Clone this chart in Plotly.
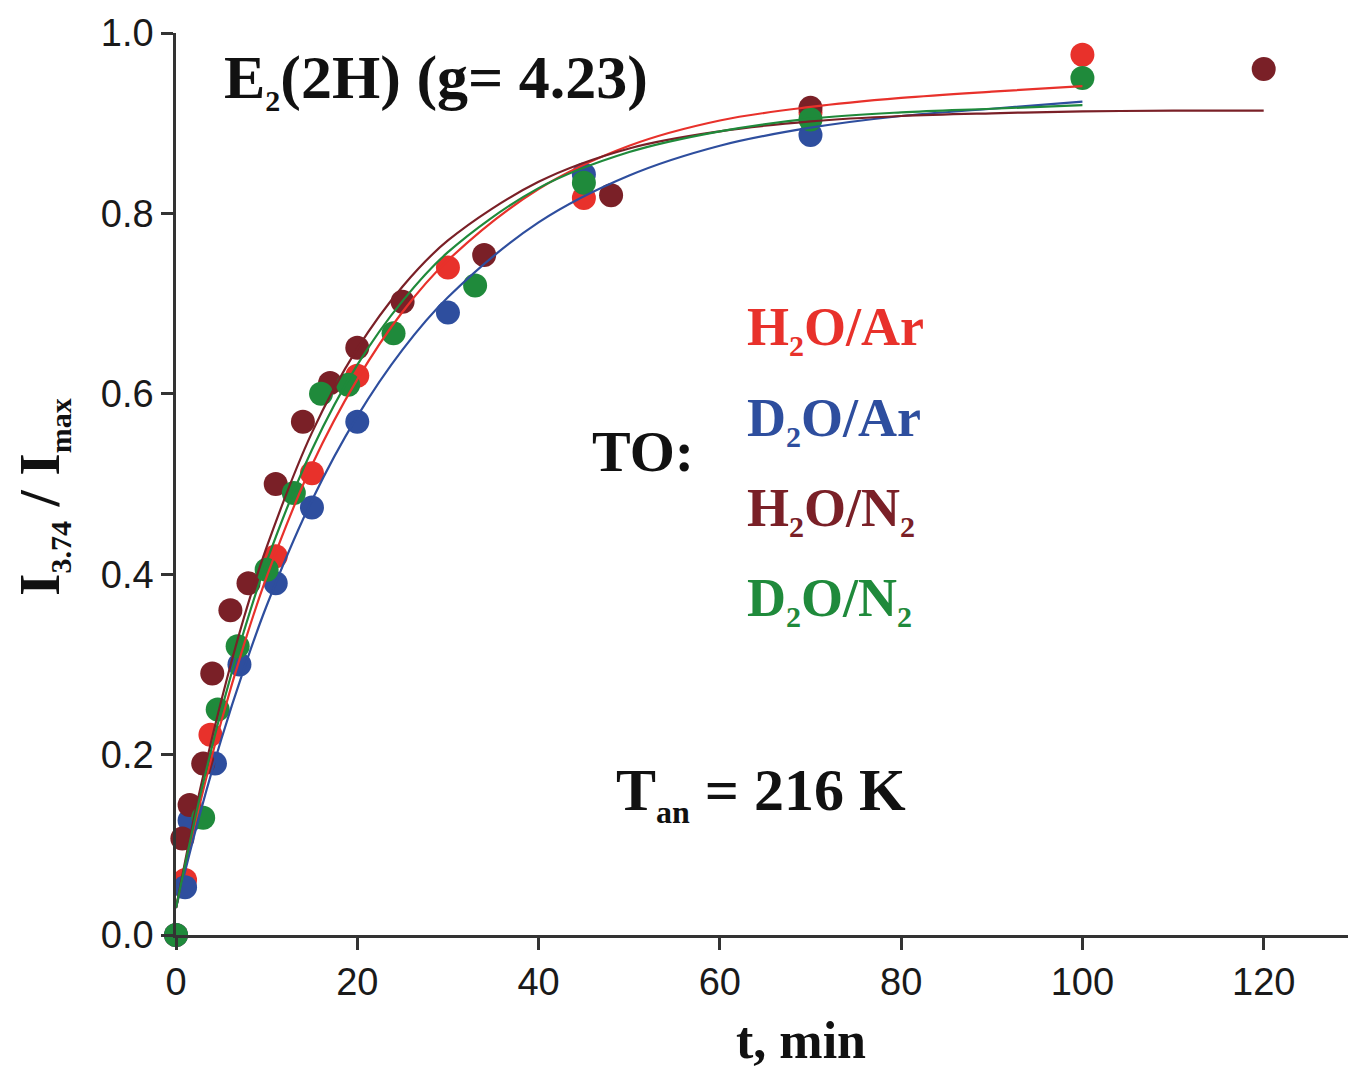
import plotly.graph_objects as go

# ---------------- data ----------------
series_labels = ["H|2|O/Ar", "D|2|O/Ar", "H|2|O/N|2|", "D|2|O/N|2|"]
series_colors = ["#E8312B", "#2E4E9E", "#7A2027", "#1F8A3B"]

t_h2o_ar = [0, 1, 3.8, 11, 15, 20, 30, 45, 70, 100]
y_h2o_ar = [0, 0.061, 0.222, 0.420, 0.512, 0.620, 0.740, 0.817, 0.912, 0.976]

t_d2o_ar = [0, 1, 1.5, 4.3, 7, 11, 15, 20, 30, 45, 70]
y_d2o_ar = [0, 0.053, 0.127, 0.190, 0.300, 0.390, 0.474, 0.569, 0.690, 0.843, 0.887]

t_h2o_n2 = [0.7, 1.5, 3, 4, 6, 8, 11, 14, 17, 20, 25, 34, 48, 70, 120]
y_h2o_n2 = [0.107, 0.144, 0.190, 0.290, 0.360, 0.390, 0.500, 0.569, 0.612, 0.651, 0.702, 0.754, 0.820, 0.917, 0.960]

t_d2o_n2 = [0, 3, 4.6, 6.8, 10, 13, 16, 19, 24, 33, 45, 70, 100]
y_d2o_n2 = [0, 0.130, 0.250, 0.320, 0.405, 0.490, 0.600, 0.610, 0.667, 0.720, 0.834, 0.904, 0.950]

# fitted curves
t_fit = [0, 2.5, 5, 7.5, 10, 15, 20, 25, 30, 40, 50, 60, 70, 80, 90, 100]
t_fit_long = t_fit + [110, 120]
fit_h2o_ar = [0.030, 0.140, 0.237, 0.322, 0.397, 0.521, 0.616, 0.691, 0.748, 0.827, 0.875, 0.903, 0.918, 0.928, 0.935, 0.941]
fit_d2o_ar = [0.030, 0.129, 0.217, 0.295, 0.365, 0.482, 0.575, 0.649, 0.707, 0.790, 0.842, 0.875, 0.895, 0.908, 0.916, 0.924]
fit_h2o_n2 = [0.030, 0.154, 0.260, 0.352, 0.430, 0.557, 0.650, 0.719, 0.770, 0.835, 0.872, 0.891, 0.902, 0.908, 0.911, 0.913, 0.914, 0.914]
fit_d2o_n2 = [0.030, 0.147, 0.249, 0.337, 0.414, 0.538, 0.632, 0.703, 0.757, 0.828, 0.868, 0.891, 0.905, 0.912, 0.916, 0.920]

x_ticks = [0, 20, 40, 60, 80, 100, 120]
y_ticks = [0.0, 0.2, 0.4, 0.6, 0.8, 1.0]
y_tick_labels = ["0.0", "0.2", "0.4", "0.6", "0.8", "1.0"]

# ---------------- figure ----------------
W, H = 1350, 1069
L, R, T, B = 176, 2, 33, 134
pw, ph = W - L - R, H - T - B

def px(x):
    return (x - L) / pw

def py(y):
    return (H - B - y) / ph

def sub(s, size):
    return "<sub><span style='font-size:%dpx'>%s</span></sub>" % (size, s)

def chem(label, size):
    parts = label.split("|")
    out = ""
    for i, p in enumerate(parts):
        out += sub(p, size) if i % 2 == 1 else p
    return out

fig = go.Figure()

point_sets = [(t_h2o_ar, y_h2o_ar), (t_d2o_ar, y_d2o_ar), (t_h2o_n2, y_h2o_n2), (t_d2o_n2, y_d2o_n2)]
fit_sets = [(t_fit, fit_h2o_ar), (t_fit, fit_d2o_ar), (t_fit_long, fit_h2o_n2), (t_fit, fit_d2o_n2)]

for (tx, ty), name, col in zip(point_sets, series_labels, series_colors):
    fig.add_trace(go.Scatter(x=tx, y=ty, mode="markers", name=name.replace("|", ""),
                             marker=dict(size=24, color=col, line=dict(width=0)),
                             cliponaxis=False, showlegend=False))
for (tx, ty), name, col in zip(fit_sets, series_labels, series_colors):
    fig.add_trace(go.Scatter(x=tx, y=ty, mode="lines", name=name.replace("|", "") + " fit",
                             line=dict(color=col, width=2.2, shape="spline", smoothing=1.0),
                             cliponaxis=False, showlegend=False))

serif = "Liberation Serif, Times New Roman, serif"
sans = "Liberation Sans, Arial, sans-serif"

fig.update_layout(
    width=W, height=H,
    margin=dict(l=L, r=R, t=T, b=B),
    paper_bgcolor="white", plot_bgcolor="white",
    showlegend=False,
    xaxis=dict(range=[0, 129.3], tickvals=x_ticks, ticks="outside", ticklen=12, tickwidth=2.5,
               tickcolor="#333", showline=True, linewidth=2.5, linecolor="#333", showgrid=False,
               zeroline=False, tickfont=dict(family=sans, size=38, color="#1a1a1a")),
    yaxis=dict(range=[0, 1.0], tickvals=y_ticks, ticktext=y_tick_labels, ticks="outside", ticklen=12,
               tickwidth=2.5, tickcolor="#333", showline=True, linewidth=2.5, linecolor="#333",
               showgrid=False, zeroline=False,
               tickfont=dict(family=sans, size=38, color="#1a1a1a")),
)

ann = []
ann.append(dict(text="<b>E" + sub("2", 30) + "(2H) (g= 4.23)</b>", x=px(222), y=py(80),
                xanchor="left", yanchor="middle", font=dict(family=serif, size=62, color="#111")))
ann.append(dict(text="<b>TO:</b>", x=px(590), y=py(452), xanchor="left", yanchor="middle",
                font=dict(family=serif, size=58, color="#111")))
legend_y = [330, 420, 510, 600]
for name, col, yy in zip(series_labels, series_colors, legend_y):
    ann.append(dict(text="<b>" + chem(name, 30) + "</b>", x=px(745), y=py(yy), xanchor="left",
                    yanchor="middle", font=dict(family=serif, size=54, color=col)))
ann.append(dict(text="<b>T" + sub("an", 32) + " = 216 K</b>", x=px(614), y=py(793), xanchor="left",
                yanchor="middle", font=dict(family=serif, size=60, color="#111")))
ann.append(dict(text="<b>t, min</b>", x=px(801), y=py(1040), xanchor="center", yanchor="middle",
                font=dict(family=serif, size=52, color="#111")))
ann.append(dict(text="<b>I" + sub("3.74", 30) + " / I" + sub("max", 30) + "</b>", x=px(42), y=py(497),
                xanchor="center", yanchor="middle", textangle=-90,
                font=dict(family=serif, size=58, color="#111")))
for a in ann:
    a.update(xref="paper", yref="paper", showarrow=False)
fig.update_layout(annotations=ann)

fig.write_html("out.html")
